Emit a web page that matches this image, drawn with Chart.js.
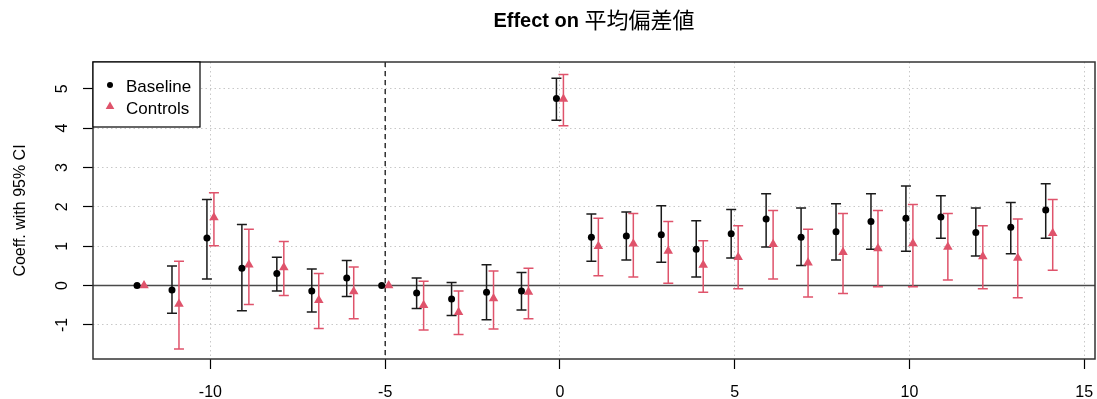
<!DOCTYPE html>
<html>
<head>
<meta charset="utf-8">
<script src="https://cdn.jsdelivr.net/npm/chart.js@4.4.1/dist/chart.umd.min.js"></script>
<style>
  html, body { margin: 0; padding: 0; background: #fff; }
</style>
</head>
<body>
<canvas id="event-study" width="1097" height="399"></canvas>
<script>
// event time (relative periods), -12 and -5 are reference periods
const periods = [-12, -11, -10, -9, -8, -7, -6, -5, -4, -3, -2, -1, 0, 1, 2, 3, 4, 5, 6, 7, 8, 9, 10, 11, 12, 13, 14];

const baseEst = [0, -0.11, 1.21, 0.44, 0.31, -0.14, 0.19, 0, -0.19, -0.34, -0.17, -0.14, 4.75,
  1.23, 1.26, 1.29, 0.92, 1.32, 1.69, 1.23, 1.37, 1.63, 1.71, 1.74, 1.35, 1.48, 1.92];
const baseLo = [null, -0.70, 0.17, -0.64, -0.14, -0.67, -0.28, null, -0.58, -0.76, -0.87, -0.62, 4.20,
  0.62, 0.65, 0.59, 0.22, 0.70, 0.98, 0.51, 0.65, 0.92, 0.87, 1.20, 0.75, 0.81, 1.20];
const baseHi = [null, 0.50, 2.19, 1.55, 0.72, 0.42, 0.64, null, 0.19, 0.08, 0.53, 0.33, 5.27,
  1.82, 1.87, 2.03, 1.65, 1.93, 2.33, 1.97, 2.08, 2.33, 2.53, 2.28, 1.97, 2.11, 2.59];

const ctrlEst = [0, -0.47, 1.73, 0.53, 0.46, -0.37, -0.15, 0, -0.50, -0.68, -0.33, -0.16, 4.74,
  1.00, 1.06, 0.88, 0.52, 0.72, 1.05, 0.58, 0.85, 0.94, 1.07, 0.98, 0.74, 0.70, 1.33];
const ctrlLo = [null, -1.61, 1.01, -0.48, -0.25, -1.09, -0.84, null, -1.13, -1.24, -1.10, -0.84, 4.06,
  0.25, 0.22, 0.06, -0.17, -0.08, 0.17, -0.29, -0.20, -0.03, -0.03, 0.14, -0.08, -0.31, 0.39];
const ctrlHi = [null, 0.62, 2.36, 1.43, 1.12, 0.31, 0.47, null, 0.11, -0.14, 0.37, 0.44, 5.36,
  1.71, 1.83, 1.63, 1.14, 1.52, 1.91, 1.43, 1.83, 1.91, 2.06, 1.83, 1.52, 1.69, 2.19];

const xTicks = [-10, -5, 0, 5, 10, 15];
const yTicks = [-1, 0, 1, 2, 3, 4, 5];
const refPeriod = -5;
const dodge = 0.1;

const titleLatin = 'Effect on ';
const titleCJK = '平均偏差値';
const yTitle = 'Coeff. with 95% CI';

const red = '#DF536B';

function toPoints(est, lo, hi, shift) {
  return periods.map((p, i) => ({ x: p + shift, y: est[i], lo: lo[i], hi: hi[i] }));
}

Chart.defaults.font.family = '"Liberation Sans", Arial, sans-serif';
Chart.defaults.color = '#000';

// error bars, reference lines, box, legend, title, rotated y labels
const esPlot = {
  id: 'esPlot',
  beforeDatasetsDraw(chart) {
    const { ctx, chartArea: a, scales: { x, y } } = chart;
    ctx.save();
    // zero line
    const y0 = y.getPixelForValue(0);
    ctx.strokeStyle = '#4a4a4a';
    ctx.lineWidth = 1.5;
    ctx.beginPath();
    ctx.moveTo(a.left, y0);
    ctx.lineTo(a.right, y0);
    ctx.stroke();
    // reference period
    const rx = x.getPixelForValue(refPeriod);
    ctx.strokeStyle = '#000';
    ctx.lineWidth = 1.2;
    ctx.setLineDash([5, 4]);
    ctx.beginPath();
    ctx.moveTo(rx, a.top);
    ctx.lineTo(rx, a.bottom);
    ctx.stroke();
    ctx.setLineDash([]);
    // box
    ctx.strokeStyle = '#333';
    ctx.lineWidth = 1.5;
    ctx.strokeRect(a.left, a.top, a.width, a.height);
    // CIs
    chart.data.datasets.forEach(ds => {
      ctx.strokeStyle = ds.barColor;
      ctx.lineWidth = 1.5;
      ds.data.forEach(p => {
        if (p.lo == null) return;
        const px = x.getPixelForValue(p.x);
        const yl = y.getPixelForValue(p.lo);
        const yh = y.getPixelForValue(p.hi);
        ctx.beginPath();
        ctx.moveTo(px, yl); ctx.lineTo(px, yh);
        ctx.moveTo(px - 5, yl); ctx.lineTo(px + 5, yl);
        ctx.moveTo(px - 5, yh); ctx.lineTo(px + 5, yh);
        ctx.stroke();
      });
    });
    ctx.restore();
  },
  afterDraw(chart) {
    const { ctx, chartArea: a, scales: { y } } = chart;
    ctx.save();
    // y tick labels, rotated like R's default
    ctx.fillStyle = '#000';
    ctx.font = '16px "Liberation Sans", Arial, sans-serif';
    ctx.textAlign = 'center';
    ctx.textBaseline = 'middle';
    yTicks.forEach(v => {
      ctx.save();
      ctx.translate(63, y.getPixelForValue(v));
      ctx.rotate(-Math.PI / 2);
      ctx.fillText(String(v), 0, 0);
      ctx.restore();
    });

    // legend
    const lx = a.left, ly = a.top;
    ctx.fillStyle = '#fff';
    ctx.fillRect(lx, ly, 107, 65);
    ctx.strokeStyle = '#000';
    ctx.lineWidth = 1.2;
    ctx.strokeRect(lx, ly, 107, 65);
    ctx.font = '17px "Liberation Sans", Arial, sans-serif';
    ctx.textAlign = 'left';
    ctx.textBaseline = 'alphabetic';
    chart.data.datasets.forEach((ds, i) => {
      const cy = ly + 23 + i * 21.5;
      ctx.fillStyle = ds.pointBackgroundColor;
      Chart.helpers.drawPoint(ctx, {
        pointStyle: ds.pointStyle, radius: ds.pointRadius - 0.5, rotation: 0, borderWidth: 0
      }, lx + 17, cy);
      ctx.fillStyle = '#000';
      ctx.fillText(ds.label, lx + 33, cy + 7);
    });

    // title: bold latin, CJK in fallback font
    const cx = (a.left + a.right) / 2;
    const fLatin = 'bold 20px "Liberation Sans", Arial, sans-serif';
    const fCJK = '22px "Noto Sans CJK JP", sans-serif';
    ctx.font = fLatin;
    const w1 = ctx.measureText(titleLatin).width;
    ctx.font = fCJK;
    const w2 = ctx.measureText(titleCJK).width;
    const tx = cx - (w1 + w2) / 2;
    ctx.fillStyle = '#000';
    ctx.font = fLatin;
    ctx.fillText(titleLatin, tx, 27);
    ctx.font = fCJK;
    ctx.fillText(titleCJK, tx + w1, 28);
    ctx.restore();
  }
};

const gridStyle = {
  color: '#c8c8c8',
  lineWidth: 1,
  borderDash: [1.5, 3],
  tickColor: '#000',
  tickWidth: 1.2,
  tickLength: 10,
  drawTicks: true
};

new Chart(document.getElementById('event-study').getContext('2d'), {
  type: 'scatter',
  data: {
    datasets: [
      {
        label: 'Baseline',
        data: toPoints(baseEst, baseLo, baseHi, -dodge),
        pointStyle: 'circle',
        pointRadius: 3.5,
        pointBackgroundColor: '#000',
        pointBorderWidth: 0,
        barColor: '#1a1a1a'
      },
      {
        label: 'Controls',
        data: toPoints(ctrlEst, ctrlLo, ctrlHi, dodge),
        pointStyle: 'triangle',
        pointRadius: 5.5,
        pointBackgroundColor: red,
        pointBorderWidth: 0,
        barColor: red
      }
    ]
  },
  options: {
    responsive: false,
    animation: false,
    events: [],
    layout: { autoPadding: false, padding: { top: 62, right: 2, left: 0, bottom: 0 } },
    scales: {
      x: {
        type: 'linear',
        min: -13.36,
        max: 15.31,
        afterBuildTicks: scale => { scale.ticks = xTicks.map(v => ({ value: v })); },
        afterFit: scale => {
          scale.height = 40;
          scale.paddingLeft = 0;
          scale.paddingRight = 0;
        },
        ticks: { font: { size: 16 }, padding: 14, color: '#000', maxRotation: 0 },
        grid: gridStyle,
        border: { display: false, dash: [1.5, 3] }
      },
      y: {
        type: 'linear',
        min: -1.865,
        max: 5.68,
        afterBuildTicks: scale => { scale.ticks = yTicks.map(v => ({ value: v })); },
        afterFit: scale => {
          scale.width = 93;
          scale.paddingTop = 0;
          scale.paddingBottom = 0;
        },
        ticks: { display: false },
        grid: gridStyle,
        border: { display: false, dash: [1.5, 3] },
        title: {
          display: true,
          text: yTitle,
          font: { size: 16 },
          color: '#000',
          padding: { top: 11, bottom: 0 }
        }
      }
    },
    plugins: {
      legend: { display: false },
      title: { display: false },
      tooltip: { enabled: false }
    }
  },
  plugins: [esPlot]
});
</script>
</body>
</html>
